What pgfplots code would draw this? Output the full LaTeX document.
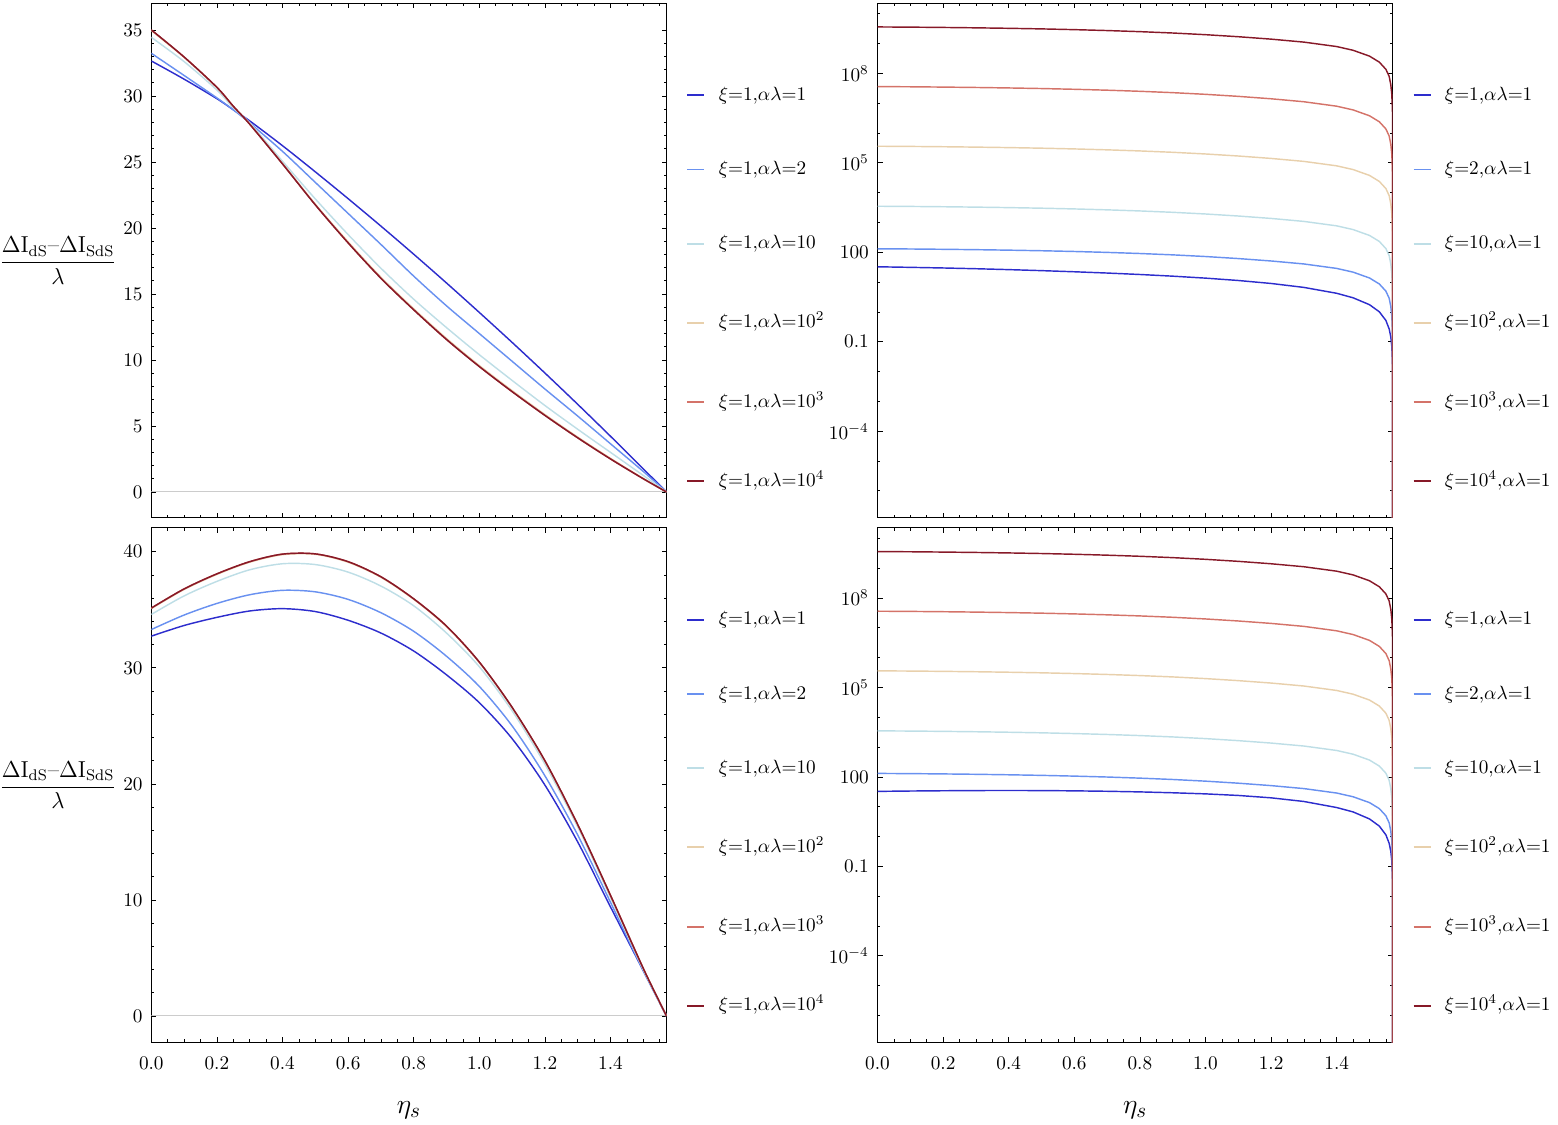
\documentclass[border=0pt]{standalone}
\usepackage{amsmath}
\usepackage{pgfplots}
\usepackage{pgfplotstable}
\pgfplotsset{compat=1.18}
\definecolor{c1}{RGB}{45,45,205}
\definecolor{c2}{RGB}{105,145,240}
\definecolor{c3}{RGB}{190,222,230}
\definecolor{c4}{RGB}{232,208,172}
\definecolor{c5}{RGB}{212,115,105}
\definecolor{c6}{RGB}{135,25,40}

\pgfplotstableread{
u db b lb tan red dr
0 32.65 33.23 34.44 34.95 35.0 35.0
0.1 31.27 31.55 32.6 32.92 32.95 32.95
0.2 29.79 29.85 30.45 30.63 30.65 30.65
0.25 28.95 28.95 29.1 29.2 29.22 29.22
0.3 28.11 27.95 27.95 27.88 27.86 27.86
0.4 26.23 25.8 25.05 24.88 24.85 24.85
0.5 24.25 23.45 22.2 21.8 21.75 21.75
0.6 22.22 21.1 19.5 18.95 18.87 18.87
0.7 20.14 18.75 16.95 16.27 16.19 16.19
0.8 18.01 16.35 14.6 13.88 13.8 13.8
0.9 15.83 14.1 12.45 11.63 11.55 11.55
1.0 13.60 12.0 10.4 9.58 9.5 9.5
1.1 11.33 9.9 8.45 7.68 7.6 7.6
1.2 9.01 7.8 6.55 5.87 5.8 5.8
1.3 6.64 5.75 4.75 4.16 4.1 4.1
1.4 4.22 3.65 3.0 2.55 2.5 2.5
1.5 1.75 1.55 1.25 1.02 1.0 1.0
1.5707963 0 0 0 0 0 0
}\TL

\pgfplotstableread{
u db b lb tan red dr
0 32.73 33.3 34.6 35.1 35.15 35.15
0.1 33.65 34.55 36.2 36.75 36.8 36.8
0.2 34.35 35.55 37.45 38.05 38.1 38.1
0.3 34.9 36.3 38.45 39.1 39.15 39.15
0.4 35.1 36.68 38.97 39.75 39.8 39.8
0.5 34.85 36.55 38.9 39.78 39.82 39.82
0.6 34.1 35.9 38.25 39.1 39.15 39.15
0.7 33.0 34.75 37.05 37.8 37.85 37.85
0.8 31.45 33.15 35.35 35.9 35.95 35.95
0.9 29.4 31.0 33.0 33.55 33.6 33.6
1.0 27.0 28.4 30.1 30.45 30.5 30.5
1.1 23.9 25.0 26.3 26.55 26.6 26.6
1.2 19.9 20.7 21.7 21.95 22.0 22.0
1.3 15.0 15.6 16.3 16.45 16.5 16.5
1.4 9.4 9.8 10.2 10.35 10.4 10.4
1.5 3.9 3.9 4.0 4.08 4.1 4.1
1.5707963 0 0 0 0 0 0
}\BL

\pgfplotstableread{
u a4 a3 a2 a1 b2
0 3.6e9 3.6e7 3.6e5 3500 131
0.1 3.546e9 3.546e7 3.546e5 3448 129.0
0.2 3.463e9 3.463e7 3.463e5 3367 126.0
0.3 3.362e9 3.362e7 3.362e5 3269 122.4
0.4 3.24e9 3.24e7 3.24e5 3150 117.9
0.5 3.096e9 3.096e7 3.096e5 3010 112.7
0.6 2.923e9 2.923e7 2.923e5 2842 106.4
0.7 2.725e9 2.725e7 2.725e5 2650 99.2
0.8 2.502e9 2.502e7 2.502e5 2433 91.0
0.9 2.254e9 2.254e7 2.254e5 2191 82.0
1.0 1.98e9 1.98e7 1.98e5 1925 72.1
1.1 1.692e9 1.692e7 1.692e5 1645 61.6
1.2 1.404e9 1.404e7 1.404e5 1365 51.1
1.3 1.116e9 1.116e7 1.116e5 1085 40.6
1.4 7.92e8 7.92e6 7.92e4 770 28.8
1.45 5.94e8 5.94e6 5.94e4 577.5 21.6
1.5 3.78e8 3.78e6 3.78e4 367.5 13.76
1.53 2.376e8 2.376e6 2.376e4 231 8.65
1.55 1.368e8 1.368e6 1.368e4 133 4.98
1.56 7.92e7 7.92e5 7.92e3 77 2.88
1.565 4.14e7 4.14e5 4.14e3 40.25 1.507
1.568 1.98e7 1.98e5 1.98e3 19.25 0.7205
1.57 5.76e6 5.76e4 576 5.6 0.2096
1.5705 2.16e6 2.16e4 216 2.1 0.0786
1.5707 7.2e5 7.2e3 72 0.7 0.0262
1.57079 4.32e4 432 4.32 0.042 0.00157
1.5707963 1e-12 1e-12 1e-12 1e-12 1e-12
}\RH

\pgfplotstableread{
u db
0 32.65
0.1 31.27
0.2 29.79
0.3 28.11
0.4 26.23
0.5 24.25
0.6 22.22
0.7 20.14
0.8 18.01
0.9 15.83
1.0 13.60
1.1 11.33
1.2 9.01
1.3 6.64
1.4 4.22
1.45 2.98
1.5 1.75
1.53 1.01
1.55 0.518
1.56 0.269
1.565 0.145
1.568 0.0697
1.57 0.0198
1.5705 0.00737
1.5707 0.0024
1.57079 1.6e-4
1.5707963 1e-12
}\TRD

\pgfplotstableread{
u db
0 32.73
0.1 33.65
0.2 34.35
0.3 34.9
0.4 35.1
0.5 34.85
0.6 34.1
0.7 33.0
0.8 31.45
0.9 29.4
1.0 27.0
1.1 23.9
1.2 19.9
1.3 15.0
1.4 9.4
1.45 6.7
1.5 3.9
1.53 2.24
1.55 1.14
1.56 0.594
1.565 0.319
1.568 0.154
1.57 0.0438
1.5705 0.0163
1.5707 0.0053
1.57079 3.5e-4
1.5707963 1e-12
}\BRD

\pgfplotsset{
 mypanel/.style={
  scale only axis, width=267.9pt, height=267.5pt, anchor=south west,
  xmin=0, xmax=1.5707963,
  xtick={0,0.2,0.4,0.6,0.8,1.0,1.2,1.4},
  minor xtick={0.05,0.1,0.15,0.25,0.3,0.35,0.45,0.5,0.55,0.65,0.7,0.75,0.85,0.9,0.95,1.05,1.1,1.15,1.25,1.3,1.35,1.45,1.5,1.55},
  tick align=inside,
  major tick length=2.6pt, minor tick length=1.5pt,
  every tick/.style={black, line width=0.4pt},
  axis line style={line width=0.5pt},
  xticklabel style={yshift=-4pt},
  yticklabel style={xshift=-1pt},
  legend style={draw=none, fill=none, at={(1.038,0.838)}, anchor=north west, inner sep=0pt, row sep=30.1pt, column sep=7pt, nodes={inner sep=0pt, anchor=base west}},
  legend cell align=left,
  legend image code/.code={\draw[#1,line width=1pt] (0pt,2.6pt) -- (8.8pt,2.6pt);},
  every axis plot/.append style={line width=0.75pt},
  ylabel style={rotate=-90, anchor=center, at={(axis description cs:-0.181,0.5)}, font=\fontsize{12}{14}\selectfont},
 },
 mybottomx/.style={xticklabels={0.0,0.2,0.4,0.6,0.8,1.0,1.2,1.4}, xlabel={$\eta_s$}, xlabel style={at={(axis description cs:0.5,-0.132)}, anchor=center, font=\fontsize{15}{17}\selectfont}},
 mytopx/.style={xticklabels={}},
 mylogticks/.style={ymin=1.26e-7, ymax=2.24e10, ytick={1e-4,0.1,100,1e5,1e8}, yticklabels={$10^{-4}$,$0.1$,$100$,$10^{5}$,$10^{8}$}, minor ytick={1e-6,1e-5,1e-3,1e-2,1,10,1e3,1e4,1e6,1e7,1e9,1e10}},
}

\newcommand{\ylab}{$\displaystyle\frac{\Delta\mathrm{I}_{\mathrm{dS}}\textnormal{--}\Delta\mathrm{I}_{\mathrm{SdS}}}{\lambda}$}
\newcommand{\sst}{\rule{0pt}{9.6pt}}

\begin{document}
\begin{tikzpicture}
\path[use as bounding box] (0,0) rectangle (810.16pt,584.48pt);

% top left
\begin{axis}[mypanel, mytopx, at={(78.68pt,315.28pt)}, ymin=-1.95, ymax=37.02,
  ytick={0,5,10,15,20,25,30,35}, minor y tick num=4, ylabel={\ylab}]
\addplot[forget plot, gray!40, line width=0.5pt] coordinates {(0,0) (1.5707963,0)};
\addplot[c1, smooth] table[x=u,y=db]{\TL}; \addlegendentry{$\xi{=}1{,}\alpha\lambda{=}1$}
\addplot[c2, smooth] table[x=u,y=b]{\TL}; \addlegendentry{$\xi{=}1{,}\alpha\lambda{=}2$}
\addplot[c3, smooth] table[x=u,y=lb]{\TL}; \addlegendentry{$\xi{=}1{,}\alpha\lambda{=}10$}
\addplot[c4, smooth] table[x=u,y=tan]{\TL}; \addlegendentry{\sst$\xi{=}1{,}\alpha\lambda{=}10^{2}$}
\addplot[c5, smooth] table[x=u,y=red]{\TL}; \addlegendentry{\sst$\xi{=}1{,}\alpha\lambda{=}10^{3}$}
\addplot[c6, smooth] table[x=u,y=dr]{\TL}; \addlegendentry{\sst$\xi{=}1{,}\alpha\lambda{=}10^{4}$}
\end{axis}

% top right
\begin{axis}[ymode=log, mypanel, mytopx, mylogticks, at={(456.3pt,315.28pt)}]
\addplot[c1] table[x=u,y=db]{\TRD}; \addlegendentry{$\xi{=}1{,}\alpha\lambda{=}1$}
\addplot[c2] table[x=u,y=b2]{\RH}; \addlegendentry{$\xi{=}2{,}\alpha\lambda{=}1$}
\addplot[c3] table[x=u,y=a1]{\RH}; \addlegendentry{$\xi{=}10{,}\alpha\lambda{=}1$}
\addplot[c4] table[x=u,y=a2]{\RH}; \addlegendentry{\sst$\xi{=}10^{2}{,}\alpha\lambda{=}1$}
\addplot[c5] table[x=u,y=a3]{\RH}; \addlegendentry{\sst$\xi{=}10^{3}{,}\alpha\lambda{=}1$}
\addplot[c6] table[x=u,y=a4]{\RH}; \addlegendentry{\sst$\xi{=}10^{4}{,}\alpha\lambda{=}1$}
\end{axis}

% bottom left
\begin{axis}[mypanel, mybottomx, at={(78.68pt,42.48pt)}, ymin=-2.27, ymax=42.06,
  ytick={0,10,20,30,40}, minor y tick num=4, ylabel={\ylab}]
\addplot[forget plot, gray!40, line width=0.5pt] coordinates {(0,0) (1.5707963,0)};
\addplot[c1, smooth] table[x=u,y=db]{\BL}; \addlegendentry{$\xi{=}1{,}\alpha\lambda{=}1$}
\addplot[c2, smooth] table[x=u,y=b]{\BL}; \addlegendentry{$\xi{=}1{,}\alpha\lambda{=}2$}
\addplot[c3, smooth] table[x=u,y=lb]{\BL}; \addlegendentry{$\xi{=}1{,}\alpha\lambda{=}10$}
\addplot[c4, smooth] table[x=u,y=tan]{\BL}; \addlegendentry{\sst$\xi{=}1{,}\alpha\lambda{=}10^{2}$}
\addplot[c5, smooth] table[x=u,y=red]{\BL}; \addlegendentry{\sst$\xi{=}1{,}\alpha\lambda{=}10^{3}$}
\addplot[c6, smooth] table[x=u,y=dr]{\BL}; \addlegendentry{\sst$\xi{=}1{,}\alpha\lambda{=}10^{4}$}
\end{axis}

% bottom right
\begin{axis}[ymode=log, mypanel, mybottomx, mylogticks, at={(456.3pt,42.48pt)}]
\addplot[c1] table[x=u,y=db]{\BRD}; \addlegendentry{$\xi{=}1{,}\alpha\lambda{=}1$}
\addplot[c2] table[x=u,y=b2]{\RH}; \addlegendentry{$\xi{=}2{,}\alpha\lambda{=}1$}
\addplot[c3] table[x=u,y=a1]{\RH}; \addlegendentry{$\xi{=}10{,}\alpha\lambda{=}1$}
\addplot[c4] table[x=u,y=a2]{\RH}; \addlegendentry{\sst$\xi{=}10^{2}{,}\alpha\lambda{=}1$}
\addplot[c5] table[x=u,y=a3]{\RH}; \addlegendentry{\sst$\xi{=}10^{3}{,}\alpha\lambda{=}1$}
\addplot[c6] table[x=u,y=a4]{\RH}; \addlegendentry{\sst$\xi{=}10^{4}{,}\alpha\lambda{=}1$}
\end{axis}
\end{tikzpicture}
\end{document}
